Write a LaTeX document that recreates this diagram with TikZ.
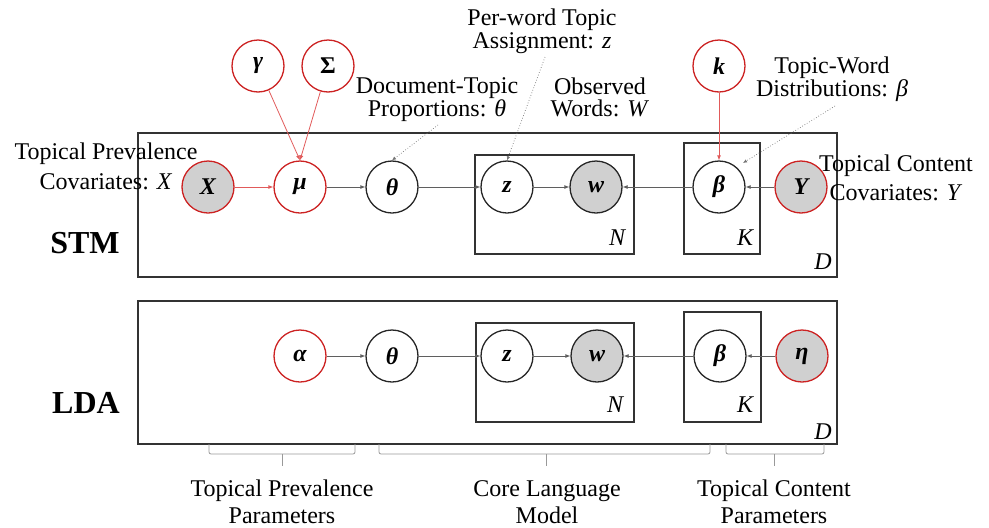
\documentclass[tikz,border=0pt]{standalone}
\usepackage{fontspec}
\setmainfont{Liberation Serif}
\usetikzlibrary{arrows.meta}
\definecolor{nred}{RGB}{204,34,34}
\definecolor{ngray}{RGB}{208,208,208}
\definecolor{edgec}{RGB}{95,95,95}
\definecolor{redge}{RGB}{225,90,90}
\begin{document}
\begin{tikzpicture}[x=1pt,y=-1pt,
  var/.style={circle, minimum size=52pt, inner sep=0pt, draw=black!85, line width=1.3pt, fill=white,
    font=\fontsize{24}{24}\selectfont\bfseries\itshape},
  redvar/.style={var, draw=nred},
  obs/.style={fill=ngray},
  plate/.style={draw=black!80, line width=1.2pt},
  lab/.style={inner sep=0pt, align=center, anchor=north, font=\fontsize{24}{#1}\selectfont},
  bracelab/.style={inner sep=0pt, align=center, anchor=north, font=\fontsize{24}{27}\selectfont},
  platelab/.style={inner sep=0pt, font=\fontsize{24}{24}\selectfont\itshape},
  model/.style={inner sep=0pt, font=\fontsize{32}{32}\selectfont\bfseries},
  bedge/.style={draw=edgec, line width=0.8pt, -{Latex[length=5pt,width=4pt]}},
  rline/.style={draw=redge, line width=0.8pt, -{Latex[length=5pt,width=4pt]}},
  ann/.style={draw=black!55, line width=0.7pt, dotted, -{Latex[length=4pt,width=3.5pt]}},
  brace/.style={draw=black!40, line width=0.8pt, rounded corners=2pt}
]
\useasboundingbox (0,0) rectangle (989,528);

% ---------------- STM ----------------
\draw[plate] (138,133) rectangle (837,277);
\draw[plate] (475,155) rectangle (634,254);
\draw[plate] (684,143) rectangle (760,254);
\node[platelab] (stmN) at (617,238) {N};
\node[platelab] (stmK) at (745,238) {K};
\node[platelab] (stmD) at (823,262) {D};
\node[model] (stm) at (85,243) {STM};

\node[redvar] (gamma) at (258,66) {γ};
\node[redvar] (Sigma) at (328,66) {\upshape Σ};
\node[redvar] (k) at (719,66) {k};
\node[redvar,obs] (X) at (208,187) {X};
\node[redvar] (mu) at (300,187) {μ};
\node[var] (theta) at (392,187) {θ};
\node[var] (z) at (507,187) {z};
\node[var,obs] (w) at (596,187) {w};
\node[var] (beta) at (719,187) {β};
\node[redvar,obs] (Y) at (801,187) {Y};

\draw[rline] (gamma) -- (mu.north);
\draw[rline] (Sigma) -- (mu.north);
\draw[rline] (X) -- (mu);
\draw[rline] (k) -- (beta);
\draw[bedge] (mu) -- (theta);
\draw[bedge] (theta) -- (z);
\draw[bedge] (z) -- (w);
\draw[bedge] (beta) -- (w);
\draw[bedge] (Y) -- (beta);

\node[lab=30] (tpc) at (106,143) {Topical Prevalence\\Covariates: \textit{X}};
\node[lab=23] (dtp) at (437,77) {Document-Topic\\Proportions: \textit{θ}};
\node[lab=23] (pwt) at (542,9) {Per-word Topic\\Assignment: \textit{z}};
\node[lab=22] (obw) at (600,78) {Observed\\Words: \textit{W}};
\node[lab=22] (twd) at (832,57) {Topic-Word\\Distributions: \textit{β}};
\node[lab=29] (tcc) at (896,155) {Topical Content\\Covariates: \textit{Y}};

\coordinate (dtpS) at (438,125);
\coordinate (pwtS) at (545,57);
\coordinate (twdS) at (835,106);
\coordinate (twdE) at (743,163);
\draw[ann] (dtpS) -- (theta.north);
\draw[ann] (pwtS) -- (z.north);
\draw[ann] (twdS) -- (twdE);

% ---------------- LDA ----------------
\draw[plate] (138,301) rectangle (837,444);
\draw[plate] (476,323) rectangle (634,422);
\draw[plate] (684,312) rectangle (761,422);
\node[platelab] (ldaN) at (615,405) {N};
\node[platelab] (ldaK) at (745,405) {K};
\node[platelab] (ldaD) at (823,432) {D};
\node[model] (lda) at (86,403) {LDA};

\node[redvar] (alpha) at (300,356) {α};
\node[var] (theta2) at (392,356) {θ};
\node[var] (z2) at (507,356) {z};
\node[var,obs] (w2) at (597,356) {w};
\node[var] (beta2) at (720,356) {β};
\node[redvar,obs] (eta) at (802,356) {η};

\draw[bedge] (alpha) -- (theta2);
\draw[bedge] (theta2) -- (z2);
\draw[bedge] (z2) -- (w2);
\draw[bedge] (beta2) -- (w2);
\draw[bedge] (eta) -- (beta2);

% ---------------- braces ----------------
\draw[brace] (209,444) -- (209,454) -- (355,454) -- (355,444);
\draw[brace] (282,454) -- (282,466);
\draw[brace] (379,444) -- (379,454) -- (710,454) -- (710,444);
\draw[brace] (546,454) -- (546,466);
\draw[brace] (726,444) -- (726,454) -- (824,454) -- (824,444);
\draw[brace] (774,454) -- (774,466);

\node[bracelab] (tpp) at (282,480) {Topical Prevalence\\Parameters};
\node[bracelab] (clm) at (547,480) {Core Language\\Model};
\node[bracelab] (tcp) at (774,480) {Topical Content\\Parameters};
\end{tikzpicture}
\end{document}
